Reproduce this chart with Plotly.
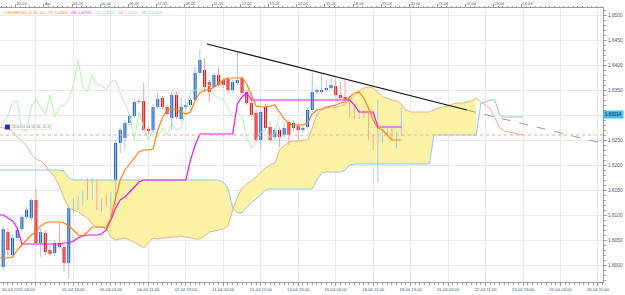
import plotly.graph_objects as go

# ---------------- data (GBPUSD H4, bar index 0 = 30-03-2011 03:00) ----------------
opens = [1.6030, 1.5996, 1.6066, 1.6020, 1.6054, 1.6072, 1.6096, 1.6094, 1.6130, 1.6044,
         1.6064, 1.6030, 1.6024, 1.6044, 1.6036, 1.6004, 1.6112, 1.6118, 1.6124, 1.6144,
         1.6136, 1.6166, 1.6116, 1.6130, 1.6124, 1.6124, 1.6244, 1.6254, 1.6284, 1.6298,
         1.6326, 1.6328, 1.6272, 1.6270, 1.6316, 1.6334, 1.6316, 1.6294, 1.6340, 1.6292,
         1.6316, 1.6320, 1.6330, 1.6384, 1.6390, 1.6366, 1.6356, 1.6380, 1.6370, 1.6372,
         1.6350, 1.6364, 1.6374, 1.6346, 1.6324, 1.6304, 1.6250, 1.6316, 1.6276, 1.6256,
         1.6270, 1.6260, 1.6286, 1.6274, 1.6278, 1.6270, 1.6276, 1.6310, 1.6346, 1.6346,
         1.6350, 1.6354, 1.6358, 1.6340, 1.6336, 1.6332, 1.6316, 1.6296, 1.6304, 1.6300,
         1.6256, 1.6234, 1.6250, 1.6266, 1.6270, 1.6256, 1.6262]
highs = [1.6036, 1.6078, 1.6074, 1.6060, 1.6074, 1.6100, 1.6116, 1.6134, 1.6154, 1.6074,
         1.6070, 1.6038, 1.6050, 1.6086, 1.6040, 1.6120, 1.6134, 1.6138, 1.6150, 1.6174,
         1.6174, 1.6170, 1.6134, 1.6140, 1.6146, 1.6250, 1.6274, 1.6290, 1.6302, 1.6330,
         1.6332, 1.6364, 1.6278, 1.6322, 1.6346, 1.6338, 1.6320, 1.6344, 1.6346, 1.6336,
         1.6324, 1.6334, 1.6396, 1.6430, 1.6414, 1.6370, 1.6384, 1.6396, 1.6374, 1.6376,
         1.6370, 1.6426, 1.6378, 1.6350, 1.6346, 1.6310, 1.6310, 1.6322, 1.6286, 1.6274,
         1.6276, 1.6286, 1.6290, 1.6290, 1.6282, 1.6278, 1.6314, 1.6384, 1.6356, 1.6384,
         1.6370, 1.6374, 1.6372, 1.6366, 1.6370, 1.6338, 1.6322, 1.6308, 1.6310, 1.6304,
         1.6260, 1.6330, 1.6270, 1.6274, 1.6274, 1.6266, 1.6316]
lows = [1.6000, 1.5990, 1.6014, 1.6014, 1.6050, 1.6068, 1.6092, 1.6090, 1.6040, 1.6016,
        1.6020, 1.6018, 1.6018, 1.6032, 1.5986, 1.5974, 1.6104, 1.6110, 1.6120, 1.6130,
        1.6130, 1.6110, 1.6106, 1.6118, 1.6094, 1.6120, 1.6224, 1.6230, 1.6280, 1.6294,
        1.6322, 1.6268, 1.6262, 1.6266, 1.6312, 1.6310, 1.6298, 1.6270, 1.6292, 1.6288,
        1.6312, 1.6316, 1.6326, 1.6380, 1.6346, 1.6326, 1.6350, 1.6356, 1.6354, 1.6344,
        1.6344, 1.6360, 1.6338, 1.6320, 1.6296, 1.6246, 1.6230, 1.6270, 1.6246, 1.6250,
        1.6236, 1.6254, 1.6240, 1.6268, 1.6250, 1.6264, 1.6272, 1.6306, 1.6342, 1.6342,
        1.6346, 1.6350, 1.6336, 1.6330, 1.6328, 1.6296, 1.6290, 1.6292, 1.6294, 1.6250,
        1.6230, 1.6166, 1.6244, 1.6262, 1.6250, 1.6234, 1.6258]
closes = [1.6006, 1.6072, 1.6030, 1.6054, 1.6070, 1.6096, 1.6110, 1.6130, 1.6044, 1.6066,
          1.6026, 1.6022, 1.6044, 1.6036, 1.6004, 1.6114, 1.6124, 1.6126, 1.6144, 1.6136,
          1.6166, 1.6116, 1.6130, 1.6124, 1.6130, 1.6244, 1.6270, 1.6284, 1.6298, 1.6326,
          1.6328, 1.6270, 1.6268, 1.6316, 1.6332, 1.6316, 1.6302, 1.6340, 1.6296, 1.6316,
          1.6320, 1.6330, 1.6384, 1.6410, 1.6356, 1.6346, 1.6380, 1.6360, 1.6360, 1.6350,
          1.6366, 1.6370, 1.6344, 1.6324, 1.6300, 1.6250, 1.6306, 1.6274, 1.6250, 1.6270,
          1.6256, 1.6274, 1.6260, 1.6284, 1.6270, 1.6274, 1.6310, 1.6346, 1.6350, 1.6350,
          1.6354, 1.6360, 1.6340, 1.6334, 1.6332, 1.6314, 1.6296, 1.6304, 1.6298, 1.6254,
          1.6234, 1.6250, 1.6266, 1.6270, 1.6254, 1.6262, 1.63014]

tenkan = [1.6014, 1.6014, 1.6014, 1.6016, 1.6030, 1.6040, 1.6050, 1.6060, 1.6066, 1.6078,
          1.6084, 1.6086, 1.6086, 1.6086, 1.6084, 1.6078, 1.6070, 1.6060, 1.6058, 1.6066,
          1.6076, 1.6076, 1.6076, 1.6074, 1.6094, 1.6134, 1.6170, 1.6190, 1.6202, 1.6214,
          1.6226, 1.6230, 1.6230, 1.6232, 1.6270, 1.6294, 1.6310, 1.6312, 1.6312, 1.6306,
          1.6302, 1.6306, 1.6330, 1.6344, 1.6350, 1.6350, 1.6356, 1.6362, 1.6370, 1.6374,
          1.6374, 1.6374, 1.6374, 1.6362, 1.6338, 1.6318, 1.6316, 1.6316, 1.6318, 1.6320,
          1.6306, 1.6292, 1.6282, 1.6280, 1.6280, 1.6280, 1.6284, 1.6302, 1.6310, 1.6312,
          1.6316, 1.6318, 1.6320, 1.6324, 1.6326, 1.6336, 1.6344, 1.6346, 1.6334, 1.6314,
          1.6290, 1.6274, 1.6270, 1.6260, 1.6250, 1.6250, 1.6250]
kijun = [1.6100, 1.6100, 1.6094, 1.6088, 1.6074, 1.6042, 1.6042, 1.6042, 1.6042, 1.6042,
         1.6042, 1.6042, 1.6042, 1.6042, 1.6044, 1.6044, 1.6048, 1.6054, 1.6058, 1.6060,
         1.6060, 1.6060, 1.6062, 1.6070, 1.6090, 1.6114, 1.6130, 1.6136, 1.6146, 1.6156,
         1.6166, 1.6170, 1.6170, 1.6170, 1.6170, 1.6170, 1.6170, 1.6170, 1.6170, 1.6170,
         1.6170, 1.6210, 1.6240, 1.6262, 1.6262, 1.6262, 1.6262, 1.6262, 1.6262, 1.6262,
         1.6262, 1.6322, 1.6336, 1.6344, 1.6330, 1.6330, 1.6330, 1.6330, 1.6330, 1.6330,
         1.6330, 1.6330, 1.6330, 1.6330, 1.6330, 1.6330, 1.6330, 1.6330, 1.6330, 1.6330,
         1.6330, 1.6330, 1.6330, 1.6330, 1.6330, 1.6330, 1.6320, 1.6306, 1.6306, 1.6306,
         1.6306, 1.6276, 1.6276, 1.6276, 1.6276, 1.6276, 1.6276]
chikou = [1.6270, 1.6284, 1.6298, 1.6326, 1.6328, 1.6270, 1.6268, 1.6316, 1.6332, 1.6316,
          1.6302, 1.6340, 1.6296, 1.6316, 1.6320, 1.6330, 1.6360, 1.6410, 1.6356, 1.6346,
          1.6380, 1.6360, 1.6360, 1.6350, 1.6366, 1.6370, 1.6344, 1.6324, 1.6300, 1.6250,
          1.6306, 1.6274, 1.6250, 1.6270, 1.6256, 1.6274, 1.6260, 1.6284, 1.6270, 1.6274,
          1.6310, 1.6346, 1.6350, 1.6350, 1.6354, 1.6360, 1.6340, 1.6334, 1.6332, 1.6314,
          1.6296, 1.6304, 1.6298, 1.6254, 1.6234, 1.6250, 1.6266, 1.6270, 1.6254, 1.6262,
          1.63014]
senkou_a = [1.6276, 1.6274, 1.6274, 1.6266, 1.6256, 1.6248, 1.6238, 1.6222, 1.6212, 1.6208,
            1.6200, 1.6186, 1.6176, 1.6158, 1.6134, 1.6114, 1.6110, 1.6106, 1.6100, 1.6094,
            1.6082, 1.6076, 1.6076, 1.6074, 1.6056, 1.6050, 1.6052, 1.6054, 1.6050, 1.6046,
            1.6040, 1.6034, 1.6044, 1.6054, 1.6052, 1.6054, 1.6054, 1.6056, 1.6056, 1.6058,
            1.6056, 1.6054, 1.6052, 1.6052, 1.6058, 1.6066, 1.6068, 1.6070, 1.6072, 1.6078,
            1.6110, 1.6136, 1.6154, 1.6162, 1.6168, 1.6176, 1.6186, 1.6194, 1.6200, 1.6204,
            1.6230, 1.6238, 1.6246, 1.6248, 1.6248, 1.6250, 1.6250, 1.6274, 1.6302, 1.6310,
            1.6314, 1.6316, 1.6316, 1.6318, 1.6322, 1.6330, 1.6338, 1.6348, 1.6354, 1.6356,
            1.6354, 1.6346, 1.6336, 1.6334, 1.6330, 1.6328, 1.6322, 1.6310, 1.6306, 1.6306,
            1.6306, 1.6306, 1.6306, 1.6310, 1.6314, 1.6316, 1.6318, 1.6322, 1.6324, 1.6324,
            1.6326, 1.6328, 1.6334, 1.6326, 1.6320, 1.6312, 1.6294, 1.6274, 1.6268, 1.6266,
            1.6264, 1.6262, 1.6260]
senkou_b = [1.6190, 1.6190, 1.6190, 1.6190, 1.6190, 1.6190, 1.6190, 1.6190, 1.6190, 1.6190,
            1.6190, 1.6190, 1.6190, 1.6190, 1.6188, 1.6174, 1.6170, 1.6170, 1.6170, 1.6170,
            1.6170, 1.6170, 1.6170, 1.6170, 1.6170, 1.6170, 1.6170, 1.6170, 1.6170, 1.6170,
            1.6170, 1.6170, 1.6170, 1.6170, 1.6170, 1.6170, 1.6170, 1.6170, 1.6170, 1.6170,
            1.6170, 1.6170, 1.6170, 1.6170, 1.6170, 1.6170, 1.6170, 1.6170, 1.6166, 1.6154,
            1.6114, 1.6104, 1.6104, 1.6116, 1.6124, 1.6132, 1.6140, 1.6150, 1.6152, 1.6152,
            1.6152, 1.6152, 1.6152, 1.6152, 1.6152, 1.6152, 1.6152, 1.6152, 1.6170, 1.6184,
            1.6186, 1.6186, 1.6186, 1.6186, 1.6190, 1.6200, 1.6202, 1.6202, 1.6202, 1.6202,
            1.6202, 1.6202, 1.6202, 1.6202, 1.6202, 1.6202, 1.6202, 1.6202, 1.6202, 1.6202,
            1.6202, 1.6202, 1.6202, 1.6260, 1.6260, 1.6260, 1.6260, 1.6260, 1.6260, 1.6260,
            1.6260, 1.6260, 1.6260, 1.6324, 1.6326, 1.6330, 1.6330, 1.6300, 1.6296, 1.6296,
            1.6296, 1.6296, 1.6296]

cloud_fill_first_bar = 10
cloud_fill_last_bar = 102

trend_bars = [44.5, 100.0]
trend_prices = [1.6442, 1.6310]
trend_ext_bars = [100.0, 129.6]
trend_ext_prices = [1.6310, 1.6242]

order_level = 1.6260
order_label = "5000|18-04 06:36, 43.3)"
order_bar = 1.9
order_price = 1.6276
last_price = 1.63014

bottom_tick_bars = [8, 16, 24, 32, 40, 48, 56, 64, 72, 80, 88, 96, 104, 112, 120, 128]
bottom_tick_labels = ["", "01-04 19:00", "05-04 03:00", "06-04 11:00", "07-04 19:00",
                      "11-04 03:00", "12-04 11:00", "13-04 19:00", "15-04 03:00",
                      "18-04 11:00", "19-04 19:00", "21-04 03:00", "22-04 11:00",
                      "23-04 19:00", "25-04 03:00", "26-04 11:00"]
first_bar_label = "30-03-2011 03:00"
top_tick_bars = [3.7, 9.7, 15.7, 21.7, 27.7, 33.7, 39.7, 45.7, 51.7, 57.7,
                 63.7, 69.7, 75.7, 81.7, 87.7, 93.7, 99.7, 105.7, 111.7]
top_tick_labels = ["31-03", "Apr", "04-04", "05-04", "06-04", "07-04", "08-04", "11-04",
                   "12-04", "13-04", "14-04", "15-04", "18-04", "19-04", "20-04", "21-04",
                   "22-04", "23-04", "24-04"]
price_ticks = [1.6000, 1.6050, 1.6100, 1.6150, 1.6200, 1.6250, 1.6300, 1.6350,
               1.6400, 1.6450, 1.6500]
# 1.6300 is covered by the current-price box in the reference
price_tick_labels = ["1.6000", "1.6050", "1.6100", "1.6150", "1.6200", "1.6250",
                     "", "1.6350", "1.6400", "1.6450", "1.6500"]

# ---------------- styles ----------------
BULL = "#1459C4"
BEAR = "#DE1010"
BULL_WICK = "#A6C6EA"
BEAR_WICK = "#F2A4A4"
TENKAN_C = "#FF7F0E"
KIJUN_C = "#F010F0"
CHIKOU_C = "#B4F0B4"
SA_C = "#F4A88C"
SB_C = "#8FC8E6"
CLOUD_C = "#FAF3A6"
GRID_C = "#EAEAEA"
AXIS_C = "#9A9A9A"
TXT_C = "#46557A"
FONT = "Liberation Sans"

n = len(closes)
bars = list(range(n))
fut = list(range(len(senkou_a)))

fig = go.Figure()

# cloud fill
fb = list(range(cloud_fill_first_bar, cloud_fill_last_bar + 1))
fig.add_trace(go.Scatter(x=fb, y=[senkou_b[i] for i in fb], mode="lines",
                         line=dict(width=0), hoverinfo="skip"))
fig.add_trace(go.Scatter(x=fb, y=[senkou_a[i] for i in fb], mode="lines",
                         line=dict(width=0), fill="tonexty", fillcolor=CLOUD_C,
                         hoverinfo="skip"))
# senkou lines
fig.add_trace(go.Scatter(x=fut, y=senkou_a, mode="lines", line=dict(color=SA_C, width=1)))
fig.add_trace(go.Scatter(x=fut, y=senkou_b, mode="lines", line=dict(color=SB_C, width=1)))
# chikou
fig.add_trace(go.Scatter(x=list(range(len(chikou))), y=chikou, mode="lines",
                         line=dict(color=CHIKOU_C, width=1)))

# wicks
def wick_xy(cond):
    xs, ys = [], []
    for i in bars:
        if cond(i):
            xs += [i, i, None]
            ys += [lows[i], highs[i], None]
    return xs, ys

bx, by = wick_xy(lambda i: closes[i] >= opens[i])
rx, ry = wick_xy(lambda i: closes[i] < opens[i])
fig.add_trace(go.Scatter(x=bx, y=by, mode="lines", line=dict(color=BULL_WICK, width=1)))
fig.add_trace(go.Scatter(x=rx, y=ry, mode="lines", line=dict(color=BEAR_WICK, width=1)))

# bodies
base = [min(o, c) for o, c in zip(opens, closes)]
height = [abs(c - o) for o, c in zip(opens, closes)]
colors = [BULL if c >= o else BEAR for o, c in zip(opens, closes)]
fig.add_trace(go.Bar(x=bars, y=height, base=base, width=0.64,
                     marker=dict(color=colors, line=dict(width=0))))

# tenkan / kijun
fig.add_trace(go.Scatter(x=bars, y=kijun, mode="lines", line=dict(color=KIJUN_C, width=1.2)))
fig.add_trace(go.Scatter(x=bars, y=tenkan, mode="lines", line=dict(color=TENKAN_C, width=1.2)))

# trend line
fig.add_trace(go.Scatter(x=trend_bars, y=trend_prices, mode="lines",
                         line=dict(color="#111111", width=1.2)))
fig.add_trace(go.Scatter(x=trend_ext_bars, y=trend_ext_prices, mode="lines", xaxis="x2",
                         line=dict(color="#9A9A9A", width=1, dash="dash")))

# order marker
fig.add_trace(go.Scatter(x=[order_bar], y=[order_price], mode="markers",
                         marker=dict(symbol="square", size=5, color="#2B2BB8")))

fig.add_shape(type="line", xref="paper", x0=0, x1=1, yref="y", y0=order_level, y1=order_level,
              line=dict(color="#F2A888", width=1, dash="dot"))

xr = [0.32, 129.08]
fig.update_layout(
    width=625, height=295,
    margin=dict(l=0, r=22, t=8, b=13),
    paper_bgcolor="white", plot_bgcolor="white",
    showlegend=False, barmode="overlay",
    font=dict(family=FONT, color=TXT_C),
    xaxis=dict(range=xr, tickmode="array", tickvals=bottom_tick_bars,
               ticktext=bottom_tick_labels, tickfont=dict(size=4.2, color=TXT_C),
               showgrid=True, gridcolor=GRID_C, gridwidth=1, zeroline=False,
               showline=True, linecolor=AXIS_C, linewidth=1,
               ticks="outside", ticklen=3, tickcolor=AXIS_C,
               minor=dict(tickmode="linear", tick0=0, dtick=1, ticks="outside",
                          ticklen=1.5, tickcolor=AXIS_C, showgrid=False)),
    xaxis2=dict(range=xr, overlaying="x", side="top", anchor="y",
                tickmode="array", tickvals=top_tick_bars, ticktext=top_tick_labels,
                ticklabelposition="outside right", tickfont=dict(size=3.8, color=TXT_C),
                showgrid=False, zeroline=False, showline=True, linecolor=AXIS_C,
                ticks="outside", ticklen=3, tickcolor=AXIS_C,
                minor=dict(tickmode="linear", tick0=0.7, dtick=1, ticks="outside",
                           ticklen=1.5, tickcolor=AXIS_C, showgrid=False)),
    yaxis=dict(range=[1.5966, 1.6514], side="right", tickmode="array",
               tickvals=price_ticks, ticktext=price_tick_labels,
               tickfont=dict(size=4.8, color=TXT_C),
               showgrid=True, gridcolor=GRID_C, zeroline=False,
               showline=True, linecolor=AXIS_C, ticks="outside", ticklen=3,
               tickcolor=AXIS_C,
               minor=dict(tickmode="linear", tick0=1.6, dtick=0.001, ticks="outside",
                          ticklen=1.5, tickcolor=AXIS_C, showgrid=False)),
)

legend_html = (
    f"<span style='color:{TENKAN_C}'>ICH(GBPUSD, 9, 26, 52) - TS: 1.62944</span>   "
    f"<span style='color:{KIJUN_C}'>KS: 1.62720</span>   "
    f"<span style='color:#8EE08E'>CS: 1.63014</span>   "
    f"<span style='color:{SA_C}'>SA: 1.62600</span>   "
    f"<span style='color:{SB_C}'>SB: 1.62958</span>"
)
fig.add_annotation(xref="paper", yref="paper", x=0.003, y=0.982, xanchor="left",
                   yanchor="middle", text=legend_html, showarrow=False,
                   font=dict(size=3.7, family=FONT))
fig.add_annotation(xref="paper", yref="paper", x=0.0, y=-0.026, xanchor="left",
                   yanchor="middle", text=first_bar_label, showarrow=False,
                   font=dict(size=4.2, color=TXT_C, family=FONT))
fig.add_annotation(xref="x", yref="y", x=order_bar + 0.8, y=order_price, xanchor="left",
                   yanchor="middle", text=order_label, showarrow=False,
                   font=dict(size=3.6, color="#8A8A8A", family=FONT),
                   bordercolor="#DADADA", borderwidth=0.6, borderpad=0.5, bgcolor="white")
fig.add_annotation(xref="paper", yref="y", x=1.0, y=last_price, xanchor="left",
                   yanchor="middle", text=f"{last_price:.5f}", showarrow=False,
                   font=dict(size=4.6, color="#102040", family=FONT),
                   bgcolor="#46BEEE", borderpad=0.8)

fig.write_html("out.html")
